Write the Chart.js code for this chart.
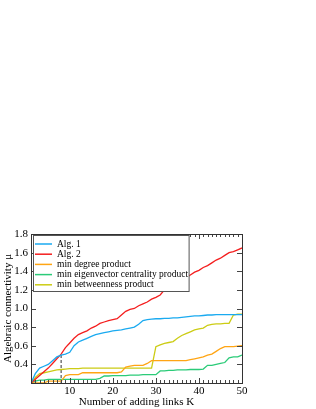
<!DOCTYPE html>
<html lang="en">
<head>
    <meta charset="UTF-8">
    <title>Algebraic connectivity vs added links</title>
    <script src="https://cdn.jsdelivr.net/npm/chart.js"></script>
    <style>
        body { margin: 0; background: #fff; }
        #wrap { position: relative; width: 316px; height: 409px; }
    </style>
</head>
<body>
    <div id="wrap"><canvas id="connChart"></canvas></div>

    <script>
        // number of added links K
        const kValues = [1, 2, 3, 4, 5, 6, 7, 8, 9, 10,
            11, 12, 13, 14, 15, 16, 17, 18, 19, 20,
            21, 22, 23, 24, 25, 26, 27, 28, 29, 30,
            31, 32, 33, 34, 35, 36, 37, 38, 39, 40,
            41, 42, 43, 44, 45, 46, 47, 48, 49, 50];

        const seriesNames = ['Alg. 1', 'Alg. 2', 'min degree product',
            'min eigenvector centrality product', 'min betweenness product'];

        const alg1 = [0.20, 0.30, 0.36, 0.38, 0.40, 0.44, 0.48, 0.50, 0.51, 0.53,
            0.60, 0.64, 0.66, 0.68, 0.70, 0.72, 0.73, 0.74, 0.75, 0.76,
            0.765, 0.77, 0.78, 0.79, 0.80, 0.83, 0.87, 0.88, 0.885, 0.89,
            0.89, 0.895, 0.895, 0.90, 0.90, 0.905, 0.91, 0.915, 0.92, 0.92,
            0.925, 0.93, 0.93, 0.935, 0.935, 0.935, 0.935, 0.935, 0.935, 0.935];

        const alg2 = [0.20, 0.24, 0.28, 0.32, 0.36, 0.41, 0.46, 0.51, 0.58, 0.63,
            0.68, 0.72, 0.74, 0.76, 0.79, 0.81, 0.84, 0.855, 0.87, 0.88,
            0.89, 0.93, 0.97, 0.99, 1.00, 1.03, 1.05, 1.07, 1.10, 1.12,
            1.145, 1.20, 1.22, 1.23, 1.27, 1.31, 1.33, 1.36, 1.39, 1.41,
            1.44, 1.46, 1.49, 1.52, 1.54, 1.57, 1.60, 1.61, 1.63, 1.65];

        const minDegree = [0.20, 0.20, 0.20, 0.20, 0.22, 0.22, 0.22, 0.22, 0.28, 0.29,
            0.29, 0.29, 0.31, 0.31, 0.31, 0.31, 0.31, 0.31, 0.31, 0.31,
            0.31, 0.32, 0.37, 0.38, 0.39, 0.39, 0.39, 0.41, 0.44, 0.44,
            0.44, 0.44, 0.44, 0.44, 0.44, 0.44, 0.44, 0.45, 0.46, 0.47,
            0.48, 0.50, 0.51, 0.54, 0.57, 0.59, 0.59, 0.59, 0.595, 0.60];

        const minEigen = [0.20, 0.22, 0.23, 0.23, 0.24, 0.24, 0.24, 0.24, 0.24, 0.24,
            0.24, 0.24, 0.24, 0.24, 0.24, 0.24, 0.25, 0.275, 0.275, 0.28,
            0.28, 0.28, 0.28, 0.285, 0.285, 0.285, 0.29, 0.29, 0.29, 0.29,
            0.33, 0.33, 0.335, 0.335, 0.34, 0.34, 0.34, 0.345, 0.345, 0.345,
            0.35, 0.39, 0.39, 0.40, 0.41, 0.42, 0.47, 0.48, 0.48, 0.50];

        const minBetween = [0.20, 0.26, 0.30, 0.31, 0.32, 0.33, 0.34, 0.345, 0.35, 0.355,
            0.355, 0.355, 0.36, 0.36, 0.36, 0.36, 0.36, 0.36, 0.36, 0.36,
            0.36, 0.36, 0.36, 0.36, 0.36, 0.36, 0.36, 0.36, 0.36, 0.59,
            0.61, 0.625, 0.635, 0.645, 0.68, 0.71, 0.73, 0.75, 0.77, 0.78,
            0.79, 0.82, 0.83, 0.835, 0.835, 0.84, 0.84, 0.93, 0.94, 0.94];

        // dashed marker at K = 8
        const markerK = [8, 8];
        const markerY = [0.2, 0.52];

        const xTicks = [10, 20, 30, 40, 50];
        const yTicks = [0.2, 0.4, 0.6, 0.8, 1.0, 1.2, 1.4, 1.6, 1.8];
        const yTickLabels = ['', '0.4', '0.6', '0.8', '1.0', '1.2', '1.4', '1.6', '1.8'];

        const colors = ['#1aaaf0', '#f41e1e', '#ffa514', '#2bcb78', '#cccc14'];
        const serif = 'Liberation Serif';

        const seriesData = [alg1, alg2, minDegree, minEigen, minBetween];
        const datasets = seriesData.map((vals, i) => ({
            label: seriesNames[i],
            data: vals.map((v, j) => ({ x: kValues[j], y: v })),
            borderColor: colors[i],
            borderWidth: 1.3,
            pointRadius: 0,
            tension: 0,
            fill: false,
        }));
        datasets.push({
            label: 'marker',
            data: markerK.map((k, j) => ({ x: k, y: markerY[j] })),
            borderColor: '#555',
            borderWidth: 1.2,
            borderDash: [3, 2],
            pointRadius: 0,
            fill: false,
        });

        // frame with inward ticks, and boxed legend in the upper left corner
        const framePlugin = {
            id: 'frame',
            afterDatasetsDraw(chart) {
                const { ctx, chartArea: ca, scales } = chart;
                const x = scales.x, y = scales.y;
                ctx.save();
                ctx.strokeStyle = '#444';
                ctx.lineWidth = 1;
                for (let k = 1; k <= 50; k++) {
                    const px = Math.round(x.getPixelForValue(k)) + 0.5;
                    const len = k % 10 === 0 ? 5 : 3;
                    ctx.beginPath();
                    ctx.moveTo(px, ca.bottom); ctx.lineTo(px, ca.bottom - len);
                    ctx.moveTo(px, ca.top); ctx.lineTo(px, ca.top + len);
                    ctx.stroke();
                }
                yTicks.forEach(v => {
                    const py = Math.round(y.getPixelForValue(v)) + 0.5;
                    ctx.beginPath();
                    ctx.moveTo(ca.left, py); ctx.lineTo(ca.left + 5, py);
                    ctx.moveTo(ca.right, py); ctx.lineTo(ca.right - 5, py);
                    ctx.stroke();
                });
                ctx.strokeStyle = '#333';
                ctx.strokeRect(Math.round(ca.left) + 0.5, Math.round(ca.top) + 0.5,
                    Math.round(ca.right - ca.left), Math.round(ca.bottom - ca.top));

                // legend
                ctx.font = '9.5px "' + serif + '"';
                const textX = ca.left + 26;
                let maxW = 0;
                seriesNames.forEach(n => { maxW = Math.max(maxW, ctx.measureText(n).width); });
                const bx = ca.left + 2.5, by = ca.top + 1.5;
                const bw = textX + maxW + 1 - bx, bh = 56;
                ctx.fillStyle = '#fff';
                ctx.fillRect(bx, by, bw, bh);
                ctx.strokeStyle = '#555';
                ctx.strokeRect(bx, by, bw, bh);
                ctx.textBaseline = 'middle';
                seriesNames.forEach((n, i) => {
                    const ry = ca.top + 10 + i * 10.2;
                    ctx.strokeStyle = colors[i];
                    ctx.lineWidth = 1.5;
                    ctx.beginPath();
                    ctx.moveTo(ca.left + 4, ry); ctx.lineTo(ca.left + 21, ry);
                    ctx.stroke();
                    ctx.fillStyle = '#000';
                    ctx.fillText(n, textX, ry);
                });
                ctx.restore();
            }
        };

        new Chart(document.getElementById('connChart'), {
            type: 'line',
            data: { datasets: datasets },
            options: {
                responsive: true,
                maintainAspectRatio: false,
                animation: false,
                layout: { padding: { top: 234, right: 74, left: 0, bottom: 0 } },
                plugins: {
                    legend: { display: false },
                    tooltip: { enabled: false },
                },
                scales: {
                    x: {
                        type: 'linear',
                        min: 1,
                        max: 50,
                        grid: { display: false, drawTicks: false, tickLength: 0 },
                        border: { display: false },
                        afterBuildTicks: s => { s.ticks = xTicks.map(v => ({ value: v })); },
                        afterFit: s => { s.height = 26; },
                        ticks: {
                            autoSkip: false,
                            maxRotation: 0,
                            padding: 2,
                            color: '#000',
                            font: { family: serif, size: 11 },
                        },
                        title: {
                            display: true,
                            text: 'Number of adding links K',
                            color: '#000',
                            padding: 0,
                            font: { family: serif, size: 11 },
                        },
                    },
                    y: {
                        min: 0.2,
                        max: 1.8,
                        grid: { display: false, drawTicks: false, tickLength: 0 },
                        border: { display: false },
                        afterBuildTicks: s => { s.ticks = yTicks.map(v => ({ value: v })); },
                        afterFit: s => { s.width = 31; },
                        ticks: {
                            padding: 3,
                            color: '#000',
                            font: { family: serif, size: 11 },
                            callback: (v, i) => yTickLabels[i],
                        },
                        title: {
                            display: true,
                            text: 'Algebraic connectivity μ',
                            color: '#000',
                            padding: { top: 1.5, bottom: 0 },
                            font: { family: serif, size: 11 },
                        },
                    },
                },
            },
            plugins: [framePlugin],
        });
    </script>
</body>
</html>
